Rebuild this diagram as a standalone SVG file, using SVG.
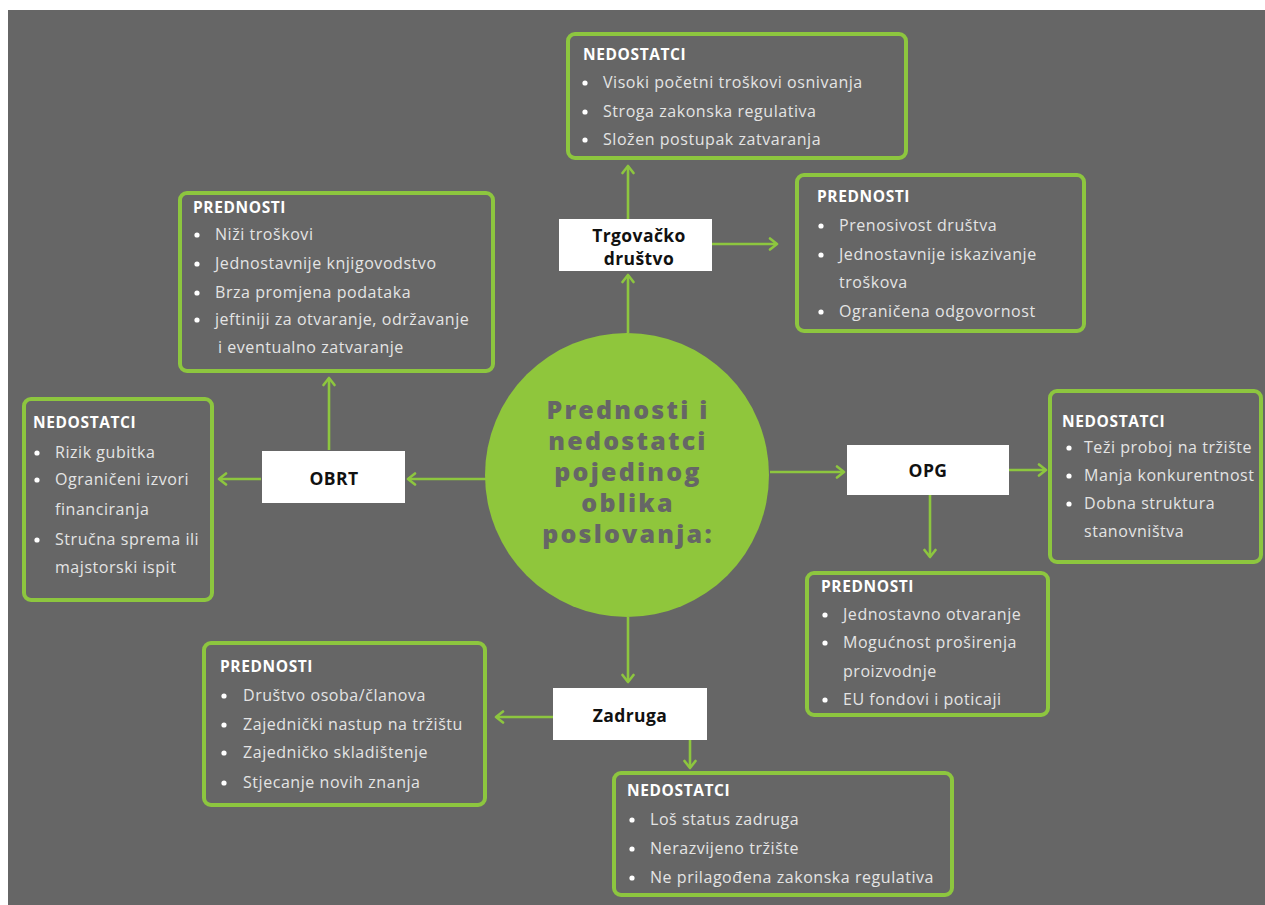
<svg xmlns="http://www.w3.org/2000/svg" width="1265" height="905" viewBox="0 0 1265 905">
<defs>
<marker id="ah" markerUnits="userSpaceOnUse" markerWidth="14" markerHeight="14" refX="10" refY="7" orient="auto">
<path d="M3,1.5 L10,7 L3,12.5" fill="none" stroke="#8dc63f" stroke-width="2.6" stroke-linecap="round" stroke-linejoin="round"/>
</marker>
<style>
.box{fill:#666666;stroke:#8dc63f;stroke-width:4}
.lbl{fill:#ffffff}
.t{font-family:"Open Sans","Liberation Sans",sans-serif;font-size:16px;fill:#e4e4e4;letter-spacing:0.55px}
.h{font-family:"Open Sans","Liberation Sans",sans-serif;font-size:15.5px;font-weight:bold;fill:#ffffff;letter-spacing:0.6px}
.d{fill:#ffffff}
.n{font-family:"Open Sans","Liberation Sans",sans-serif;font-size:17.5px;font-weight:bold;fill:#111111;text-anchor:middle;letter-spacing:0.4px}
.c{font-family:"Open Sans","Liberation Sans",sans-serif;font-size:25px;font-weight:800;fill:#666666;text-anchor:middle;letter-spacing:2.2px}
.ln{stroke:#8dc63f;stroke-width:2.6;fill:none;marker-end:url(#ah)}
</style>
</defs>
<rect x="0" y="0" width="1265" height="905" fill="#ffffff"/>
<rect x="8" y="10" width="1257" height="895" fill="#666666"/>

<g id="connectors">
<line class="ln" x1="329" y1="450" x2="329" y2="378"/>
<line class="ln" x1="261" y1="479" x2="219" y2="479"/>
<line class="ln" x1="486" y1="479" x2="408" y2="479"/>
<line class="ln" x1="628" y1="333" x2="628" y2="275"/>
<line class="ln" x1="628" y1="219" x2="628" y2="166"/>
<line class="ln" x1="712" y1="244" x2="777" y2="244"/>
<line class="ln" x1="770" y1="472" x2="844" y2="472"/>
<line class="ln" x1="1009" y1="470" x2="1046" y2="470"/>
<line class="ln" x1="930" y1="495" x2="930" y2="557"/>
<line class="ln" x1="628" y1="617" x2="628" y2="682"/>
<line class="ln" x1="553" y1="717" x2="496" y2="717"/>
<line class="ln" x1="690" y1="740" x2="690" y2="768"/>
</g>

<g id="center">
<circle cx="627" cy="475" r="142" fill="#8fc63c"/>
<text class="c" x="628" y="419">Prednosti i</text>
<text class="c" x="628" y="450">nedostatci</text>
<text class="c" x="628" y="481">pojedinog</text>
<text class="c" x="628" y="512">oblika</text>
<text class="c" x="628" y="543">poslovanja:</text>
</g>

<g id="trgovacko">
<rect class="lbl" x="559" y="219" width="153" height="52"/>
<text class="n" x="639" y="242">Trgovačko</text>
<text class="n" x="639" y="265">društvo</text>
</g>

<g id="obrt">
<rect class="lbl" x="262" y="451" width="143" height="52"/>
<text class="n" x="334" y="485">OBRT</text>
</g>

<g id="opg">
<rect class="lbl" x="847" y="445" width="162" height="50"/>
<text class="n" x="928" y="477">OPG</text>
</g>

<g id="zadruga">
<rect class="lbl" x="553" y="688" width="154" height="52"/>
<text class="n" x="630" y="722">Zadruga</text>
</g>

<g id="trg-nedostatci">
<rect class="box" x="568" y="34" width="338" height="124" rx="7"/>
<text class="h" x="583" y="60">NEDOSTATCI</text>
<circle class="d" cx="585" cy="83" r="2.6"/><text class="t" x="603" y="88">Visoki početni troškovi osnivanja</text>
<circle class="d" cx="585" cy="112" r="2.6"/><text class="t" x="603" y="117">Stroga zakonska regulativa</text>
<circle class="d" cx="585" cy="140" r="2.6"/><text class="t" x="603" y="145">Složen postupak zatvaranja</text>
</g>

<g id="trg-prednosti">
<rect class="box" x="797" y="175" width="287" height="156" rx="7"/>
<text class="h" x="817" y="202">PREDNOSTI</text>
<circle class="d" cx="821" cy="226" r="2.6"/><text class="t" x="839" y="231">Prenosivost društva</text>
<circle class="d" cx="821" cy="255" r="2.6"/><text class="t" x="839" y="260">Jednostavnije iskazivanje</text>
<text class="t" x="839" y="288">troškova</text>
<circle class="d" cx="821" cy="312" r="2.6"/><text class="t" x="839" y="317">Ograničena odgovornost</text>
</g>

<g id="obrt-prednosti">
<rect class="box" x="180" y="193" width="313" height="178" rx="7"/>
<text class="h" x="193" y="213">PREDNOSTI</text>
<circle class="d" cx="197" cy="235" r="2.6"/><text class="t" x="215" y="240">Niži troškovi</text>
<circle class="d" cx="197" cy="264" r="2.6"/><text class="t" x="215" y="269">Jednostavnije knjigovodstvo</text>
<circle class="d" cx="197" cy="293" r="2.6"/><text class="t" x="215" y="298">Brza promjena podataka</text>
<circle class="d" cx="197" cy="320" r="2.6"/><text class="t" x="215" y="325">jeftiniji za otvaranje, održavanje</text>
<text class="t" x="218" y="353">i eventualno zatvaranje</text>
</g>

<g id="obrt-nedostatci">
<rect class="box" x="24" y="399" width="188" height="201" rx="7"/>
<text class="h" x="33" y="428">NEDOSTATCI</text>
<circle class="d" cx="37" cy="453" r="2.6"/><text class="t" x="55" y="458">Rizik gubitka</text>
<circle class="d" cx="37" cy="480" r="2.6"/><text class="t" x="55" y="485">Ograničeni izvori</text>
<text class="t" x="55" y="515">financiranja</text>
<circle class="d" cx="37" cy="540" r="2.6"/><text class="t" x="55" y="545">Stručna sprema ili</text>
<text class="t" x="55" y="573">majstorski ispit</text>
</g>

<g id="opg-nedostatci">
<rect class="box" x="1050" y="391" width="211" height="171" rx="7"/>
<text class="h" x="1062" y="427">NEDOSTATCI</text>
<circle class="d" cx="1069" cy="448" r="2.6"/><text class="t" x="1084" y="453">Teži proboj na tržište</text>
<circle class="d" cx="1069" cy="476" r="2.6"/><text class="t" x="1084" y="481">Manja konkurentnost</text>
<circle class="d" cx="1069" cy="504" r="2.6"/><text class="t" x="1084" y="509">Dobna struktura</text>
<text class="t" x="1084" y="537">stanovništva</text>
</g>

<g id="opg-prednosti">
<rect class="box" x="807" y="573" width="241" height="142" rx="7"/>
<text class="h" x="821" y="592">PREDNOSTI</text>
<circle class="d" cx="825" cy="615" r="2.6"/><text class="t" x="843" y="620">Jednostavno otvaranje</text>
<circle class="d" cx="825" cy="643" r="2.6"/><text class="t" x="843" y="648">Mogućnost proširenja</text>
<text class="t" x="843" y="677">proizvodnje</text>
<circle class="d" cx="825" cy="700" r="2.6"/><text class="t" x="843" y="705">EU fondovi i poticaji</text>
</g>

<g id="zadruga-prednosti">
<rect class="box" x="204" y="643" width="281" height="162" rx="7"/>
<text class="h" x="220" y="672">PREDNOSTI</text>
<circle class="d" cx="224" cy="696" r="2.6"/><text class="t" x="243" y="701">Društvo osoba/članova</text>
<circle class="d" cx="224" cy="725" r="2.6"/><text class="t" x="243" y="730">Zajednički nastup na tržištu</text>
<circle class="d" cx="224" cy="753" r="2.6"/><text class="t" x="243" y="758">Zajedničko skladištenje</text>
<circle class="d" cx="224" cy="783" r="2.6"/><text class="t" x="243" y="788">Stjecanje novih znanja</text>
</g>

<g id="zadruga-nedostatci">
<rect class="box" x="614" y="773" width="338" height="122" rx="7"/>
<text class="h" x="627" y="796">NEDOSTATCI</text>
<circle class="d" cx="632" cy="820" r="2.6"/><text class="t" x="650" y="825">Loš status zadruga</text>
<circle class="d" cx="632" cy="849" r="2.6"/><text class="t" x="650" y="854">Nerazvijeno tržište</text>
<circle class="d" cx="632" cy="878" r="2.6"/><text class="t" x="650" y="883">Ne prilagođena zakonska regulativa</text>
</g>
</svg>
